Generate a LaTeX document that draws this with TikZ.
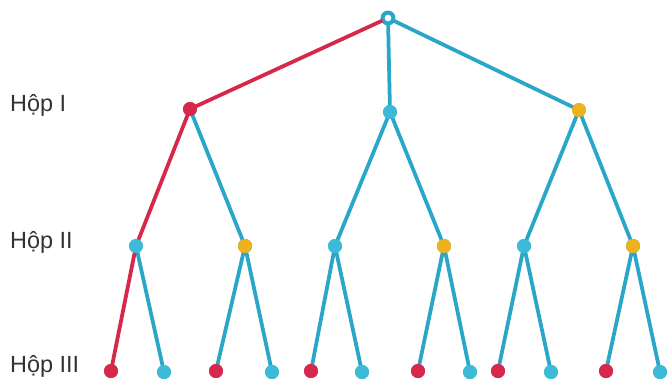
\documentclass[tikz,border=0pt]{standalone}
\usepackage{fontspec}
\setmainfont{Liberation Sans}
\definecolor{edgeblue}{HTML}{2AA6C8}
\definecolor{nodeblue}{HTML}{3DBAD8}
\definecolor{redc}{HTML}{D6284B}
\definecolor{yellowc}{HTML}{EEB21E}
\definecolor{labelc}{HTML}{333333}
\begin{document}
\begin{tikzpicture}[x=0.03cm,y=-0.03cm,
  ball/.style={circle,inner sep=0pt,minimum size=0.42cm},
  bball/.style={ball,fill=nodeblue},
  rball/.style={ball,fill=redc},
  yball/.style={ball,fill=yellowc},
  bedge/.style={draw=edgeblue,line width=3.2pt},
  redge/.style={draw=redc,line width=3.2pt},
  lbl/.style={anchor=west,text=labelc,font=\fontsize{20}{24}\selectfont,inner sep=0pt}]
\useasboundingbox (0,0) rectangle (667,381);
% labels
\node[lbl] (l1) at (10,105) {Hộp I};
\node[lbl] (l2) at (10,242) {Hộp II};
\node[lbl] (l3) at (10,366) {Hộp III};
% root
\node[circle,draw=edgeblue,line width=2.4pt,fill=white,minimum size=0.36cm,inner sep=0pt] (r) at (388,18) {};
% level 1
\node[rball] (a) at (190,109) {};
\node[bball] (b) at (390,112) {};
\node[yball] (c) at (579,110) {};
% level 2
\node[bball] (a1) at (136,246) {};
\node[yball] (a2) at (245,246) {};
\node[bball] (b1) at (335,246) {};
\node[yball] (b2) at (444,246) {};
\node[bball] (c1) at (524,246) {};
\node[yball] (c2) at (633,246) {};
% level 3
\node[rball] (a11) at (111,371) {};
\node[bball] (a12) at (164,372) {};
\node[rball] (a21) at (216,371) {};
\node[bball] (a22) at (272,372) {};
\node[rball] (b11) at (311,371) {};
\node[bball] (b12) at (362,372) {};
\node[rball] (b21) at (418,371) {};
\node[bball] (b22) at (470,372) {};
\node[rball] (c11) at (498,371) {};
\node[bball] (c12) at (551,372) {};
\node[rball] (c21) at (606,371) {};
\node[bball] (c22) at (660,372) {};
% edges
\begin{scope}[on background layer/.style={}]
\path[bedge] (r.center) -- (b.center);
\path[bedge] (r.center) -- (c.center);
\path[bedge] (a.center) -- (a2.center);
\path[bedge] (b.center) -- (b1.center);
\path[bedge] (b.center) -- (b2.center);
\path[bedge] (c.center) -- (c1.center);
\path[bedge] (c.center) -- (c2.center);
\path[bedge] (a1.center) -- (a12.center);
\path[bedge] (a2.center) -- (a21.center);
\path[bedge] (a2.center) -- (a22.center);
\path[bedge] (b1.center) -- (b11.center);
\path[bedge] (b1.center) -- (b12.center);
\path[bedge] (b2.center) -- (b21.center);
\path[bedge] (b2.center) -- (b22.center);
\path[bedge] (c1.center) -- (c11.center);
\path[bedge] (c1.center) -- (c12.center);
\path[bedge] (c2.center) -- (c21.center);
\path[bedge] (c2.center) -- (c22.center);
\path[redge] (r.center) -- (a.center) -- (a1.center) -- (a11.center);
\end{scope}
% redraw nodes on top
\foreach \n in {b,a1,a2,b1,b2,c1,c2,a12,a22,b12,b22,c12,c22}{\fill[nodeblue] (\n) circle (0.21cm);}
\foreach \n in {c,a2,b2,c2}{\fill[yellowc] (\n) circle (0.21cm);}
\foreach \n in {a,a11,a21,b11,b21,c11,c21}{\fill[redc] (\n) circle (0.21cm);}
\draw[edgeblue,line width=2.4pt,fill=white] (r) circle (0.15cm);
\end{tikzpicture}
\end{document}
